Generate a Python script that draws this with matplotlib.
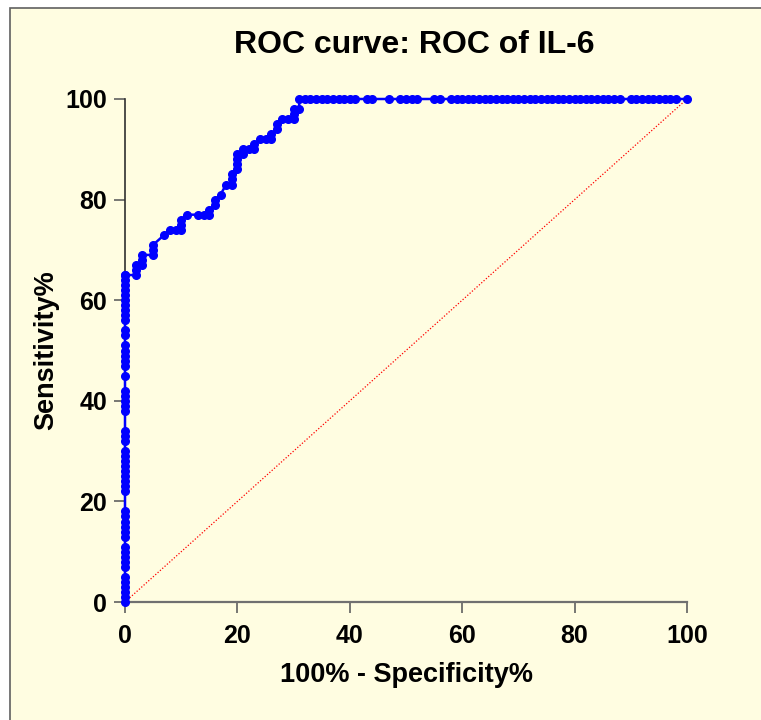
import matplotlib
matplotlib.use("Agg")
import matplotlib.pyplot as plt
from matplotlib.patches import Rectangle

# ROC points (100% - specificity, sensitivity)
tpr_vertical = [0, 1, 2, 3, 4, 5, 7, 8, 9, 10, 11, 13, 14, 15, 16, 17, 18,
                22, 23, 24, 25, 26, 27, 28, 29, 30, 32, 33, 34, 38, 39, 40, 41, 42,
                45, 47, 48, 49, 50, 51, 53, 54, 56, 57, 58, 59, 60, 61, 62, 63, 64, 65, 65]
fpr_vertical = [0] * len(tpr_vertical)

fpr_steps = [2, 2, 2, 3, 3, 3, 5, 5, 5, 7, 8, 9, 10, 10, 10, 11, 13, 14, 15, 15,
             16, 16, 17, 18, 19, 19, 19, 20, 20, 20, 20, 21, 21, 22, 23, 23, 24,
             25, 26, 26, 27, 27, 28, 29, 30, 30, 30, 31, 31]
tpr_steps = [65, 66, 67, 67, 68, 69, 69, 70, 71, 73, 74, 74, 74, 75, 76, 77, 77, 77, 77, 78,
             79, 80, 81, 83, 83, 84, 85, 86, 87, 88, 89, 89, 90, 90, 90, 91, 92,
             92, 92, 93, 94, 95, 96, 96, 96, 97, 98, 98, 100]

fpr_top = ([32, 33, 34, 35, 36, 37, 38, 39, 40, 41, 43, 44, 47, 49, 50, 51, 52, 55, 56]
           + list(range(58, 89)) + list(range(90, 99)) + [100])
tpr_top = [100] * len(fpr_top)

fpr = fpr_vertical + fpr_steps + fpr_top
tpr = tpr_vertical + tpr_steps + tpr_top

plt.rcParams['font.family'] = ['Liberation Sans', 'DejaVu Sans']
plt.rcParams['font.weight'] = 'bold'

W, H = 761, 720
fig = plt.figure(figsize=(W / 100, H / 100), dpi=100)
fig.patch.set_facecolor('white')
bg = '#FFFDE1'
frame = Rectangle((10 / W, -0.01), 1.1, 1 - 8 / H + 0.01,
                  transform=fig.transFigure, facecolor=bg,
                  edgecolor='#606060', linewidth=1.2, zorder=-10)
fig.add_artist(frame)

ax = fig.add_axes([125 / W, 1 - 602 / H, (687 - 125) / W, (602 - 99) / H])
ax.set_facecolor('none')

ax.plot([0, 100], [0, 100], color='red', linestyle=(0, (1, 1.5)), linewidth=0.9)
ax.plot(fpr, tpr, color='#0000FF', linewidth=1.8, marker='o', markersize=5.5,
        clip_on=False, zorder=5)

ax.set_xlim(0, 100)
ax.set_ylim(0, 100)
ax.set_xticks([0, 20, 40, 60, 80, 100])
ax.set_yticks([0, 20, 40, 60, 80, 100])

for s in ['top', 'right']:
    ax.spines[s].set_visible(False)
ax.spines['left'].set_color('#303030')
ax.spines['left'].set_linewidth(1.2)
ax.spines['bottom'].set_color('#707070')
ax.spines['bottom'].set_linewidth(1.6)
ax.tick_params(axis='both', direction='out', length=8, width=1.2, colors='#606060',
               labelsize=18, labelcolor='black', pad=5)
ax.tick_params(axis='x', pad=8)
for lab in ax.get_xticklabels() + ax.get_yticklabels():
    lab.set_fontweight('bold')

ax.set_title('ROC curve: ROC of IL-6', fontsize=23, fontweight='bold', pad=33, x=0.515)
ax.set_xlabel('100% - Specificity%', fontsize=19.5, fontweight='bold', labelpad=10)
ax.set_ylabel('Sensitivity%', fontsize=19.5, fontweight='bold', labelpad=4)

fig.savefig('out.png', dpi=100)
